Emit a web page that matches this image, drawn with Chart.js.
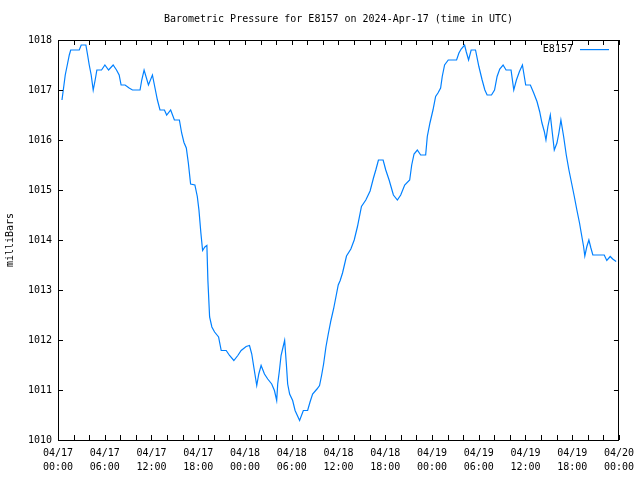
<!DOCTYPE html>
<html>
<head>
<meta charset="utf-8">
<script src="https://cdn.jsdelivr.net/npm/chart.js@4/dist/chart.umd.min.js"></script>
<style>
html,body{margin:0;padding:0;background:#fff;}
#wrap{width:640px;height:480px;}
</style>
</head>
<body>
<div id="wrap"><canvas id="c" width="640" height="480"></canvas></div>
<script>
const chartTitle = "Barometric Pressure for E8157 on 2024-Apr-17 (time in UTC)";
const seriesLabel = "E8157";
const yTitle = "milliBars";
const dayLabels = ["04/17", "04/18", "04/19", "04/20"];
// hours since 2024-04-17 00:00 UTC
const hours = [
  0.51,0.68,0.93,1.19,1.45,1.63,2.73,2.98,3.58,3.80,4.01,4.26,4.52,4.77,4.99,5.59,
  6.02,6.49,7.08,7.51,7.85,8.10,8.61,9.13,9.56,10.53,10.75,11.05,11.61,12.12,12.45,
  12.76,13.09,13.66,13.95,14.46,14.94,15.58,15.87,16.17,16.47,16.73,17.02,17.57,
  17.88,18.09,18.34,18.56,18.85,19.11,19.24,19.46,19.75,20.10,20.61,20.95,21.59,
  22.02,22.57,23.08,23.51,24.15,24.58,24.87,25.13,25.51,25.77,26.07,26.50,26.92,
  27.43,27.78,28.07,28.20,28.42,28.63,28.89,29.09,29.31,29.48,29.73,30.12,30.43,
  31.01,31.49,32.04,32.35,32.68,33.24,33.57,33.83,34.09,34.39,34.69,35.03,35.37,
  35.67,35.97,36.22,36.52,37.03,37.59,38.02,38.44,38.95,39.51,40.06,40.49,40.79,
  41.13,41.73,42.07,42.50,43.05,43.56,43.99,44.50,45.14,45.40,45.70,46.12,46.55,
  47.19,47.40,47.74,48.13,48.47,48.77,49.11,49.32,49.62,50.09,51.16,51.46,51.75,
  52.19,52.39,52.70,53.03,53.59,54.02,54.44,54.79,55.08,55.64,56.03,56.36,56.70,
  57.13,57.51,58.15,58.50,58.84,59.23,59.61,59.78,60.03,60.63,61.06,61.48,61.82,
  62.12,62.42,62.63,62.88,63.19,63.45,63.70,64.04,64.29,64.55,64.90,65.24,65.58,
  65.92,66.27,66.60,66.94,67.16,67.46,67.62,67.88,68.14,68.40,68.65,70.11,70.44,
  70.88,71.20,71.64
];
const pressure = [
  1016.8,1017.0,1017.3,1017.5,1017.7,1017.8,1017.8,1017.9,1017.9,1017.7,1017.5,1017.3,1017.0,1017.2,1017.4,1017.4,
  1017.5,1017.4,1017.5,1017.4,1017.3,1017.1,1017.1,1017.04,1017.0,1017.0,1017.2,1017.4,1017.1,1017.3,1017.04,
  1016.8,1016.6,1016.6,1016.5,1016.6,1016.4,1016.4,1016.14,1015.95,1015.84,1015.54,1015.12,1015.1,
  1014.87,1014.6,1014.14,1013.79,1013.86,1013.89,1013.19,1012.46,1012.26,1012.16,1012.06,1011.79,1011.79,
  1011.69,1011.59,1011.69,1011.79,1011.87,1011.89,1011.72,1011.46,1011.09,1011.32,1011.49,1011.32,1011.22,
  1011.12,1010.99,1010.79,1011.12,1011.39,1011.69,1011.86,1011.99,1011.52,1011.12,1010.92,1010.79,1010.59,
  1010.39,1010.59,1010.59,1010.76,1010.92,1011.02,1011.09,1011.29,1011.52,1011.86,1012.12,1012.39,1012.62,
  1012.86,1013.1,1013.19,1013.34,1013.68,1013.82,1014.0,1014.27,1014.67,1014.8,1014.98,1015.24,1015.4,
  1015.6,1015.6,1015.4,1015.2,1014.9,1014.8,1014.9,1015.1,1015.2,1015.5,1015.72,1015.8,1015.7,
  1015.7,1016.07,1016.34,1016.6,1016.87,1016.94,1017.04,1017.27,1017.5,1017.6,1017.6,1017.74,1017.82,
  1017.9,1017.77,1017.6,1017.8,1017.8,1017.47,1017.2,1017.0,1016.9,1016.9,1017.0,1017.27,1017.42,
  1017.5,1017.4,1017.4,1017.0,1017.2,1017.37,1017.5,1017.34,1017.1,1017.1,1016.94,1016.77,1016.57,
  1016.34,1016.17,1016.0,1016.27,1016.5,1016.14,1015.8,1015.94,1016.14,1016.4,1016.07,1015.7,1015.4,
  1015.14,1014.87,1014.6,1014.34,1014.14,1013.87,1013.68,1013.87,1014.0,1013.84,1013.7,1013.7,1013.59,
  1013.67,1013.62,1013.57
];
const xMin = 0, xMax = 72, xStep = 2, xLabelEvery = 6;
const yMin = 1010, yMax = 1018, yStep = 1;

const lineColor = '#0080ff';
const FONT = {family: "'DejaVu Sans Mono', monospace", size: 10};

const points = hours.map((h, i) => ({x: h, y: pressure[i]}));

function xLabel(v) {
  if (v % xLabelEvery !== 0) return '';
  const d = Math.floor(v / 24);
  const hh = v % 24;
  return [dayLabels[d], String(hh).padStart(2, '0') + ':00'];
}

const inwardTicks = {
  id: 'inwardTicks',
  afterDraw(chart) {
    const ctx = chart.ctx, a = chart.chartArea, L = 5;
    ctx.save();
    ctx.strokeStyle = '#000';
    ctx.lineWidth = 1;
    ctx.beginPath();
    chart.scales.x.ticks.forEach(t => {
      const px = Math.round(chart.scales.x.getPixelForValue(t.value)) + 0.5;
      ctx.moveTo(px, a.bottom); ctx.lineTo(px, a.bottom - L);
      ctx.moveTo(px, a.top); ctx.lineTo(px, a.top + L);
    });
    chart.scales.y.ticks.forEach(t => {
      const py = Math.round(chart.scales.y.getPixelForValue(t.value)) + 0.5;
      ctx.moveTo(a.left, py); ctx.lineTo(a.left + L, py);
      ctx.moveTo(a.right, py); ctx.lineTo(a.right - L, py);
    });
    ctx.stroke();
    ctx.restore();
    // legend
    ctx.save();
    const ds = chart.data.datasets[0];
    const ly = Math.round(a.top + 9);
    ctx.font = FONT.size + "px " + FONT.family;
    ctx.fillStyle = '#000';
    ctx.textAlign = 'right';
    ctx.textBaseline = 'middle';
    ctx.fillText(ds.label, a.right - 46, ly + 0.5);
    ctx.fillStyle = lineColor;
    ctx.fillRect(Math.round(a.right - 39), ly, 29, 1.2);
    ctx.restore();
  }
};

new Chart(document.getElementById('c'), {
  type: 'line',
  data: {
    datasets: [{
      label: seriesLabel,
      data: points,
      borderColor: lineColor,
      borderWidth: 1.2,
      pointRadius: 0,
      tension: 0,
      fill: false
    }]
  },
  options: {
    responsive: false,
    animation: false,
    events: [],
    layout: {padding: 0},
    plugins: {
      legend: {display: false},
      tooltip: {enabled: false},
      title: {
        display: true,
        text: chartTitle,
        fullSize: false,
        color: '#000',
        font: {family: FONT.family, size: 10, weight: 'normal'},
        padding: {top: 13, bottom: 0}
      }
    },
    scales: {
      x: {
        type: 'linear',
        position: 'bottom',
        min: xMin, max: xMax,
        grid: {display: false, drawTicks: false},
        border: {display: true, color: '#000', width: 1},
        ticks: {
          stepSize: xStep, autoSkip: false, maxRotation: 0, minRotation: 0,
          color: '#000', font: {family: FONT.family, size: 10, lineHeight: 1.4},
          padding: 6,
          callback: xLabel
        },
        afterFit(s) { s.height = 40; }
      },
      x2: {
        type: 'linear',
        position: 'top',
        min: xMin, max: xMax,
        grid: {display: false, drawTicks: false},
        border: {display: true, color: '#000', width: 1},
        ticks: {display: false},
        afterFit(s) { s.height = 15; }
      },
      y: {
        position: 'left',
        min: yMin, max: yMax,
        grid: {display: false, drawTicks: false},
        border: {display: true, color: '#000', width: 1},
        ticks: {stepSize: yStep, color: '#000', font: FONT, padding: 6, callback: v => String(v)},
        title: {display: true, text: yTitle, color: '#000', font: FONT, padding: {top: 4, bottom: 4}},
        afterFit(s) { s.width = 58; }
      },
      y2: {
        position: 'right',
        min: yMin, max: yMax,
        grid: {display: false, drawTicks: false},
        border: {display: true, color: '#000', width: 1},
        ticks: {display: false},
        afterFit(s) { s.width = 20; }
      }
    }
  },
  plugins: [inwardTicks]
});
</script>
</body>
</html>
